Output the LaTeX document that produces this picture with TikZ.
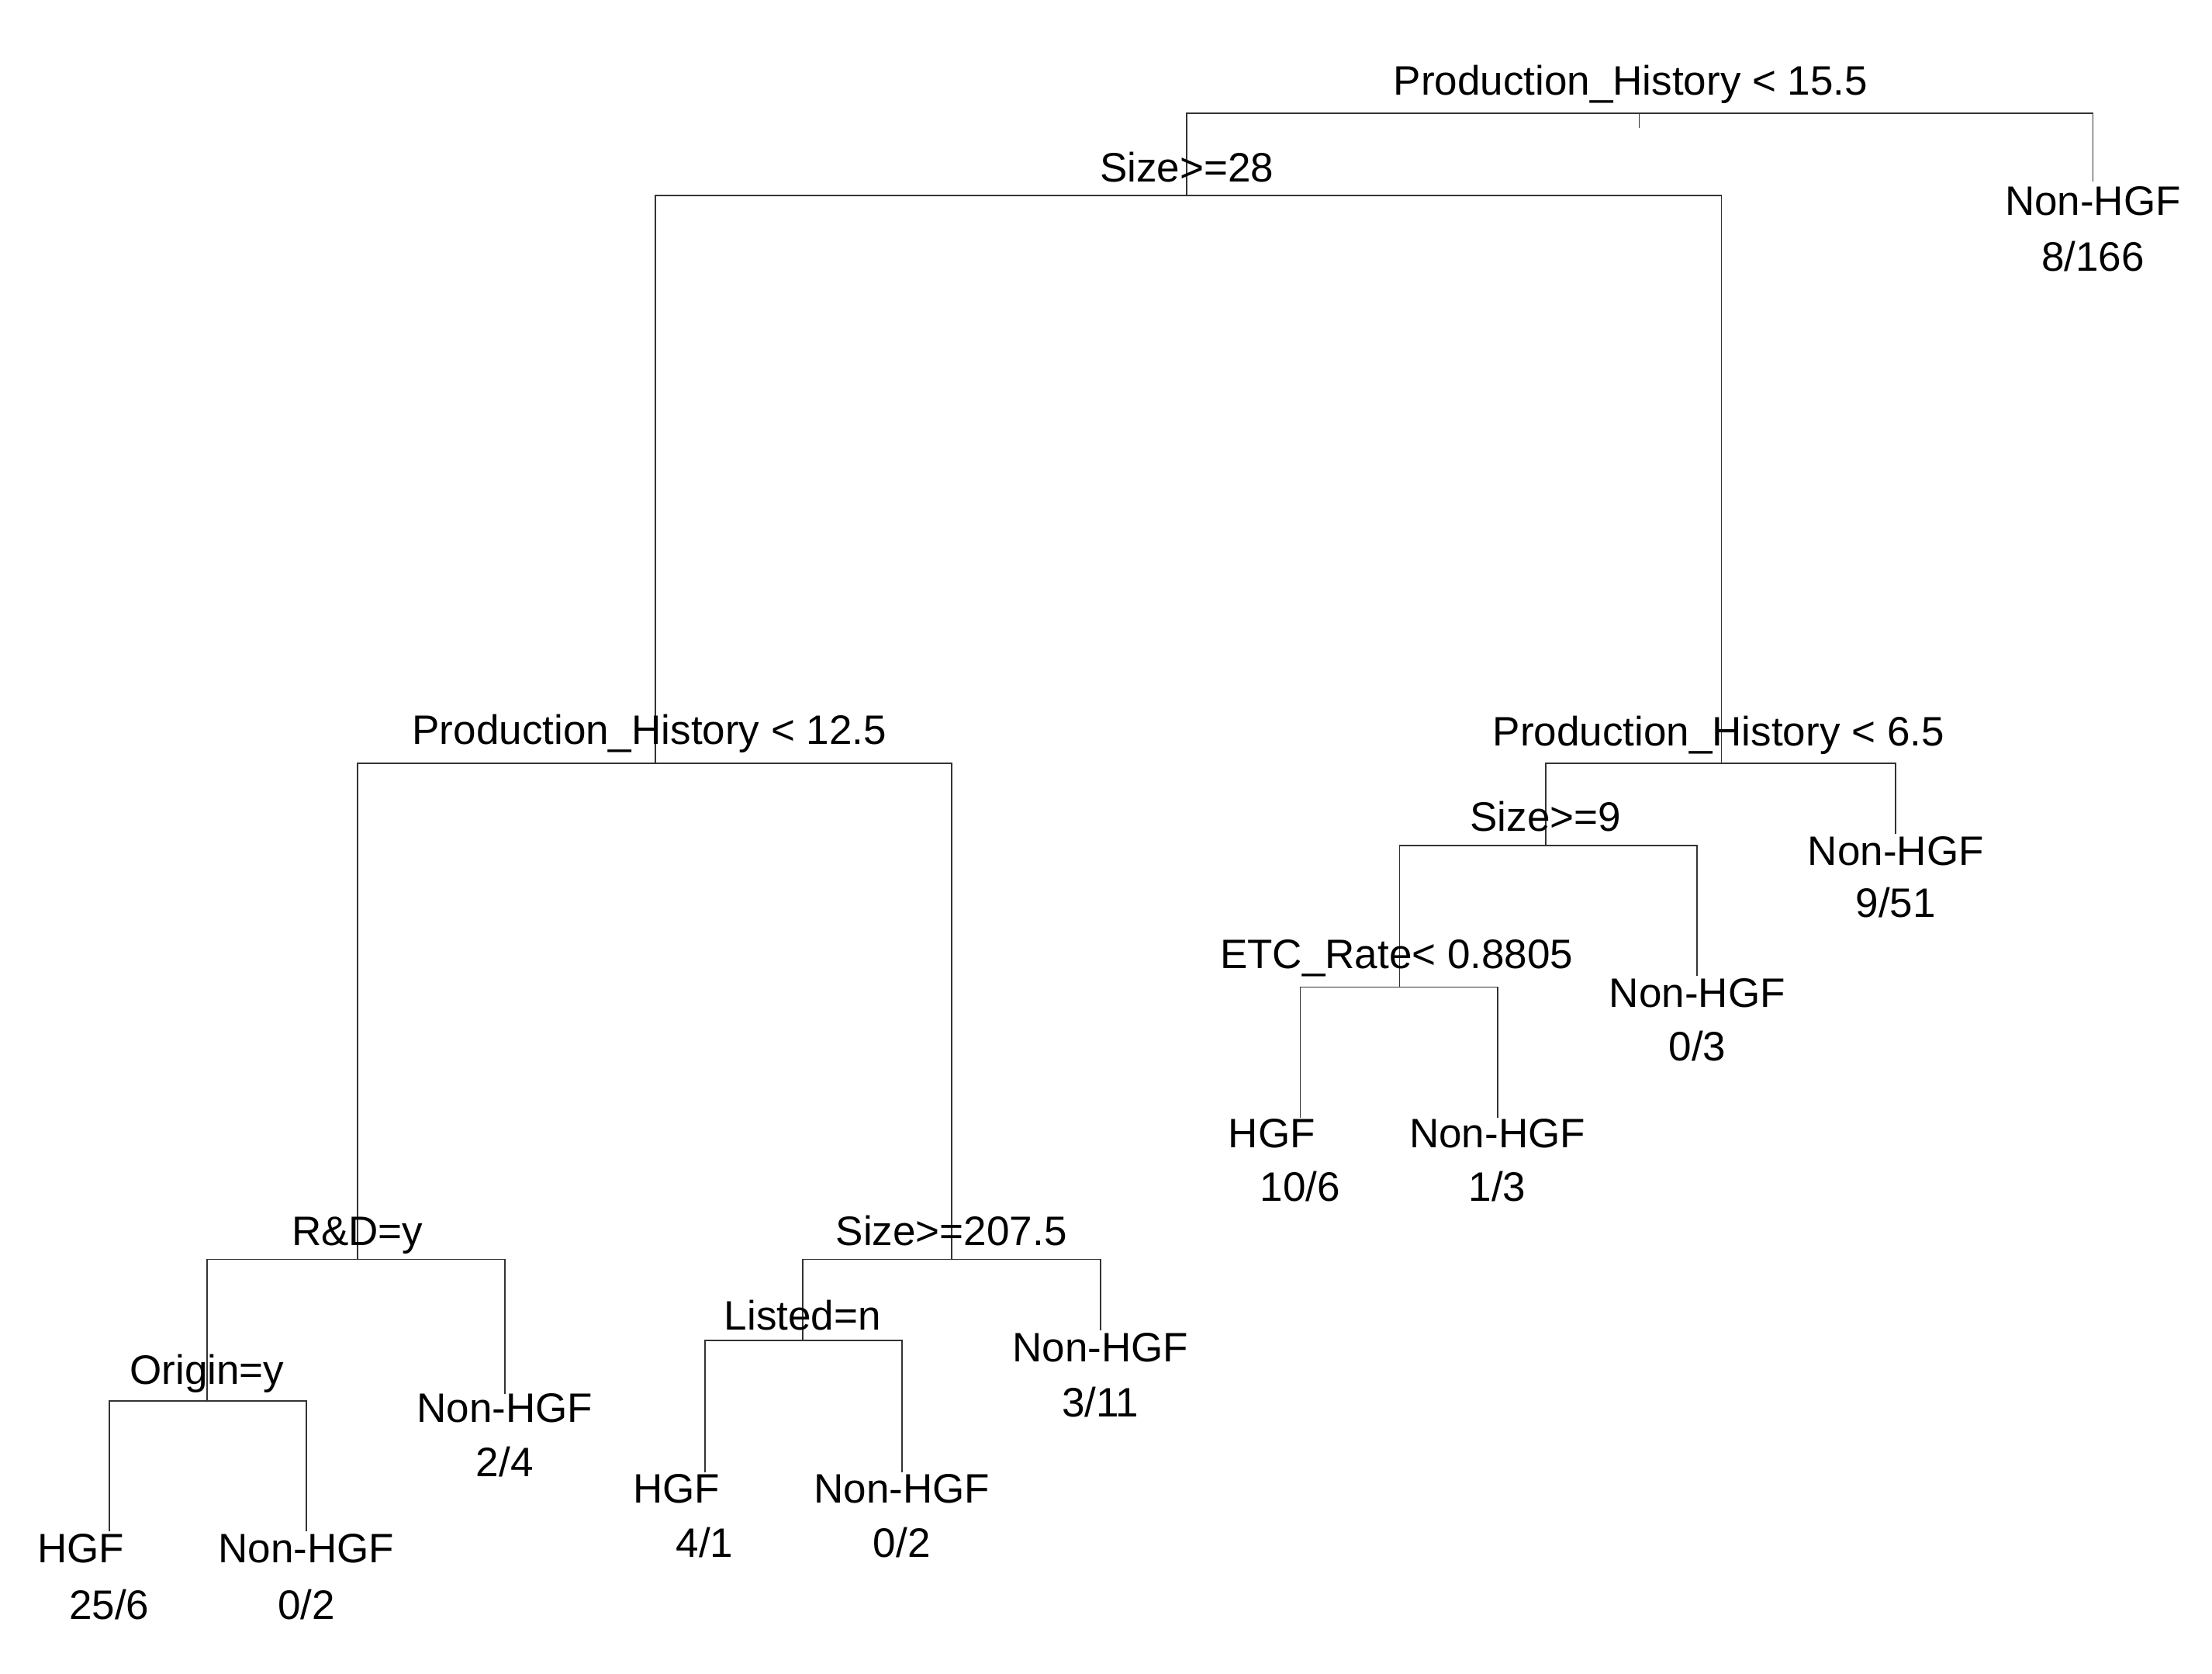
\documentclass[tikz,border=0pt]{standalone}
\usepackage{fontspec}
\setmainfont{Liberation Sans}
\begin{document}
\begin{tikzpicture}[x=0.5pt,y=-0.5pt,
  lbl/.style={font=\fontsize{14.5}{16}\selectfont,inner sep=0pt,anchor=base},
  br/.style={draw=black!80,line width=0.5pt}]
\useasboundingbox (0,0) rectangle (1560,1180);
% internal split points (on their bars)
\coordinate (r) at (1156,80);
\coordinate (a) at (837,138);
\coordinate (b) at (462,538);
\coordinate (c) at (1214,538);
\coordinate (d) at (1090,596);
\coordinate (e) at (987,696);
\coordinate (f) at (252,888);
\coordinate (g) at (146,988);
\coordinate (h) at (671,888);
\coordinate (i) at (566,945);
% leaves
\coordinate (l1) at (1476,128);
\coordinate (l2) at (1337,588);
\coordinate (l3) at (1197,688);
\coordinate (l4) at (917,788);
\coordinate (l5) at (1056,788);
\coordinate (l6) at (356,983);
\coordinate (l7) at (77,1080);
\coordinate (l8) at (216,1080);
\coordinate (l9) at (776,938);
\coordinate (l10) at (497,1038);
\coordinate (l11) at (636,1038);
% branches
\draw[br] (a) -- (837,80) -| (l1);
\draw[br] (r) -- ++(0,10);
\draw[br] (b) |- (a) -| (c);
\draw[br] (f) |- (b) -| (h);
\draw[br] (d) |- (c) -| (l2);
\draw[br] (e) |- (d) -| (l3);
\draw[br] (l4) |- (e) -| (l5);
\draw[br] (g) |- (f) -| (l6);
\draw[br] (l7) |- (g) -| (l8);
\draw[br] (i) |- (h) -| (l9);
\draw[br] (l10) |- (i) -| (l11);
% split labels
\node[lbl] (tr) at (1150,67) {Production\_History < 15.5};
\node[lbl] (ta) at (837,128) {Size>=28};
\node[lbl] (tb) at (458,525) {Production\_History < 12.5};
\node[lbl] (tc) at (1212,526) {Production\_History < 6.5};
\node[lbl] (td) at (1090,586) {Size>=9};
\node[lbl] (te) at (985,683) {ETC\_Rate< 0.8805};
\node[lbl] (tf) at (252,878) {R\&D=y};
\node[lbl] (tg) at (146,976) {Origin=y};
\node[lbl] (th) at (671,878) {Size>=207.5};
\node[lbl] (ti) at (566,938) {Listed=n};
% leaf labels
\node[lbl] (n1) at (1476,152) {Non-HGF};  \node[lbl] (v1) at (1476,191) {8/166};
\node[lbl] (n2) at (1337,610) {Non-HGF};  \node[lbl] (v2) at (1337,647) {9/51};
\node[lbl] (n3) at (1197,710) {Non-HGF};  \node[lbl] (v3) at (1197,748) {0/3};
\node[lbl] (n4) at (897,809) {HGF};       \node[lbl] (v4) at (917,847) {10/6};
\node[lbl] (n5) at (1056,809) {Non-HGF};  \node[lbl] (v5) at (1056,847) {1/3};
\node[lbl] (n6) at (356,1003) {Non-HGF};  \node[lbl] (v6) at (356,1041) {2/4};
\node[lbl] (n7) at (57,1102) {HGF};       \node[lbl] (v7) at (77,1142) {25/6};
\node[lbl] (n8) at (216,1102) {Non-HGF};  \node[lbl] (v8) at (216,1142) {0/2};
\node[lbl] (n9) at (776,960) {Non-HGF};   \node[lbl] (v9) at (776,999) {3/11};
\node[lbl] (n10) at (477,1060) {HGF};     \node[lbl] (v10) at (497,1098) {4/1};
\node[lbl] (n11) at (636,1060) {Non-HGF}; \node[lbl] (v11) at (636,1098) {0/2};
\end{tikzpicture}
\end{document}
